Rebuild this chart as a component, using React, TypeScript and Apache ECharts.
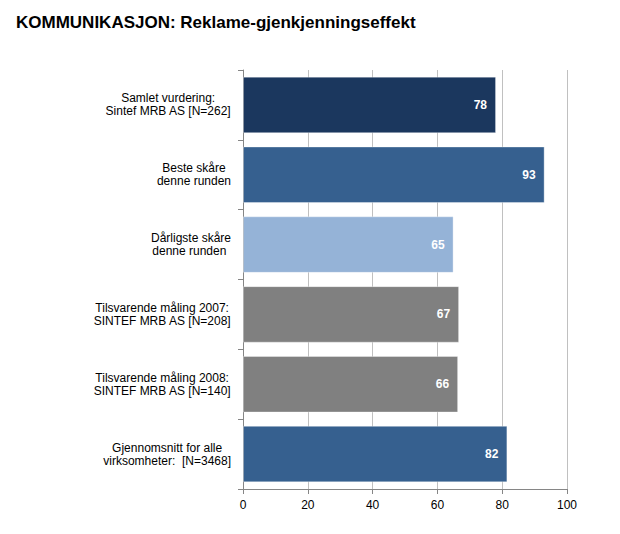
import React, { useEffect, useRef } from "react";
import * as echarts from "echarts";

const title = "KOMMUNIKASJON: Reklame-gjenkjenningseffekt";
const categories = [
  "Samlet vurdering:\nSintef MRB AS [N=262]",
  "Beste skåre\ndenne runden",
  "Dårligste skåre\ndenne runden ",
  "Tilsvarende måling 2007:\nSINTEF MRB AS [N=208]",
  "Tilsvarende måling 2008:\nSINTEF MRB AS [N=140]",
  "Gjennomsnitt for alle\nvirksomheter:  [N=3468]",
];
const values = [78.1, 93.1, 65.0, 66.7, 66.4, 81.6];
const valueLabels = ["78", "93", "65", "67", "66", "82"];
const barColors = ["#1b375e", "#36608f", "#95b3d7", "#808080", "#808080", "#36608f"];
const xTicks = [0, 20, 40, 60, 80, 100];

export default function App() {
  const ref = useRef<HTMLDivElement>(null);
  useEffect(() => {
    if (!ref.current) return;
    const chart = echarts.init(ref.current, null, { renderer: "svg" });
    const font = "Liberation Sans, Arial, sans-serif";
    chart.setOption({
      animation: false,
      backgroundColor: "#ffffff",
      textStyle: { fontFamily: font },
      title: {
        text: title,
        left: 11,
        top: 9,
        textStyle: { fontFamily: font, fontSize: 17, fontWeight: "bold", color: "#000" },
      },
      grid: { left: 243, right: 53, top: 70, bottom: 45, containLabel: false },
      xAxis: {
        type: "value",
        min: xTicks[0],
        max: xTicks[xTicks.length - 1],
        interval: 20,
        axisLine: { show: true, lineStyle: { color: "#868686", width: 1 } },
        axisTick: { show: true, length: 5, lineStyle: { color: "#868686" } },
        axisLabel: { color: "#000", fontSize: 12, margin: 10, fontFamily: font },
        splitLine: { show: true, lineStyle: { color: "#c0c0c0", width: 1 } },
      },
      yAxis: {
        type: "category",
        data: categories,
        inverse: true,
        axisLine: { show: true, lineStyle: { color: "#868686", width: 1 } },
        axisTick: { show: true, length: 5, lineStyle: { color: "#868686" } },
        axisLabel: {
          color: "#000",
          fontSize: 12,
          margin: 12,
          align: "right",
          lineHeight: 13,
          fontFamily: font,
          formatter: (v: string) =>
            v
              .split("\n")
              .map((l) => `{c|${l}}`)
              .join("\n"),
          rich: { c: { align: "center", fontSize: 12, lineHeight: 13, color: "#000", fontFamily: font } },
        },
        splitLine: { show: false },
      },
      series: [
        {
          type: "bar",
          data: values.map((v, i) => ({ value: v, itemStyle: { color: barColors[i] } })),
          barCategoryGap: "19%",
          itemStyle: { borderColor: "rgba(255,255,255,0.35)", borderWidth: 1 },
          label: {
            show: true,
            position: "insideRight",
            distance: 9,
            color: "#fff",
            fontWeight: "bold",
            fontSize: 12,
            fontFamily: font,
            formatter: (p: any) => valueLabels[p.dataIndex],
          },
        },
      ],
    });
    return () => chart.dispose();
  }, []);
  return (
    <div
      ref={ref}
      style={{ position: "fixed", left: 0, top: 0, width: 620, height: 534, background: "#fff" }}
    />
  );
}
